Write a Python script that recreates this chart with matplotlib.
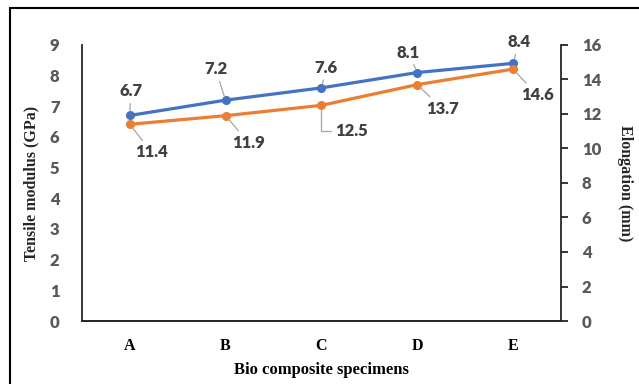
import matplotlib
matplotlib.use("Agg")
import matplotlib.pyplot as plt
from matplotlib.patches import Rectangle

specimens = ["A", "B", "C", "D", "E"]
modulus = [6.7, 7.2, 7.6, 8.1, 8.4]
elongation = [11.4, 11.9, 12.5, 13.7, 14.6]

blue = "#4472C4"
orange = "#ED7D31"
tick_gray = "#595959"
lab_gray = "#404040"
lead_gray = "#A6A6A6"
num_font = "Lato"
serif = "Liberation Serif"

fig = plt.figure(figsize=(6.39, 3.84), dpi=100)
ax = fig.add_axes([0.128, 0.164, 0.75, 0.719])
ax2 = ax.twinx()

x = list(range(len(specimens)))
ax.plot(x, modulus, color=blue, lw=2.3, marker="o", ms=5.5, zorder=3)
ax2.plot(x, elongation, color=orange, lw=2.3, marker="o", ms=5.5, zorder=3)

ax.set_xlim(-0.5, 4.5)
ax.set_ylim(0, 9)
ax2.set_ylim(0, 16)
ax.set_yticks(range(0, 10))
ax2.set_yticks(range(0, 17, 2))
ax.set_xticks(x)
ax.set_xticklabels(specimens, fontfamily=serif, fontweight="bold", fontsize=11.5)

for a in (ax, ax2):
    a.spines["top"].set_visible(False)
    for s in a.spines.values():
        s.set_linewidth(1.3)
        s.set_color("#262626")
ax2.spines["left"].set_visible(False)
ax.spines["right"].set_visible(False)

ax.tick_params(axis="x", length=0, pad=12)
ax.tick_params(axis="y", length=0, pad=16, labelcolor=tick_gray, labelsize=12)
ax2.tick_params(axis="y", length=5, width=1.3, color="#262626", pad=10,
                labelcolor=tick_gray, labelsize=12)
for lab in ax.get_yticklabels() + ax2.get_yticklabels():
    lab.set_fontfamily(num_font)
    lab.set_fontweight("heavy")

ax.set_xlabel("Bio composite specimens", fontfamily=serif, fontweight="bold",
              fontsize=12)
ax.set_ylabel("Tensile modulus (GPa)", fontfamily=serif, fontweight="bold",
              fontsize=11.5, color="#262626", va="center")
ax2.set_ylabel("Elongation (mm)", fontfamily=serif, fontweight="bold",
               fontsize=11.5, color="#262626", rotation=270, va="center")
ax.xaxis.set_label_coords(0.5, -0.15)
ax.yaxis.set_label_coords(-0.106, 0.5)
ax2.yaxis.set_label_coords(1.134, 0.5)

# data label offsets in pixels (dx, dy), dy positive = up
blue_off = [(1, 24), (-10, 31), (5, 20), (-9, 20), (6, 21)]
orange_off = [(22, -28), (23, -27), (30, -26), (25, -24), (24, -26)]

for i, v in enumerate(modulus):
    ax.annotate(f"{v}", (x[i], v), xytext=blue_off[i], textcoords="offset pixels",
                ha="center", va="center", fontfamily=num_font, fontweight="heavy",
                fontsize=12, color=lab_gray, zorder=4,
                arrowprops=dict(arrowstyle="-", color=lead_gray, lw=0.9,
                                shrinkA=1, shrinkB=3))
for i, v in enumerate(elongation):
    # the C label has an elbow leader in the original
    conn = "angle,angleA=0,angleB=90,rad=0" if i == 2 else "arc3"
    ax2.annotate(f"{v}", (x[i], v), xytext=orange_off[i], textcoords="offset pixels",
                 ha="center", va="center", fontfamily=num_font, fontweight="heavy",
                 fontsize=12, color=lab_gray, zorder=4,
                 arrowprops=dict(arrowstyle="-", color=lead_gray, lw=0.9,
                                 shrinkA=1, shrinkB=3, connectionstyle=conn))

fig.patches.append(Rectangle((10 / 639, -0.1), 1.2, 1 - 8 / 384 + 0.1,
                             transform=fig.transFigure, fill=False,
                             edgecolor="black", lw=1.5))

fig.savefig("out.png", dpi=100)
